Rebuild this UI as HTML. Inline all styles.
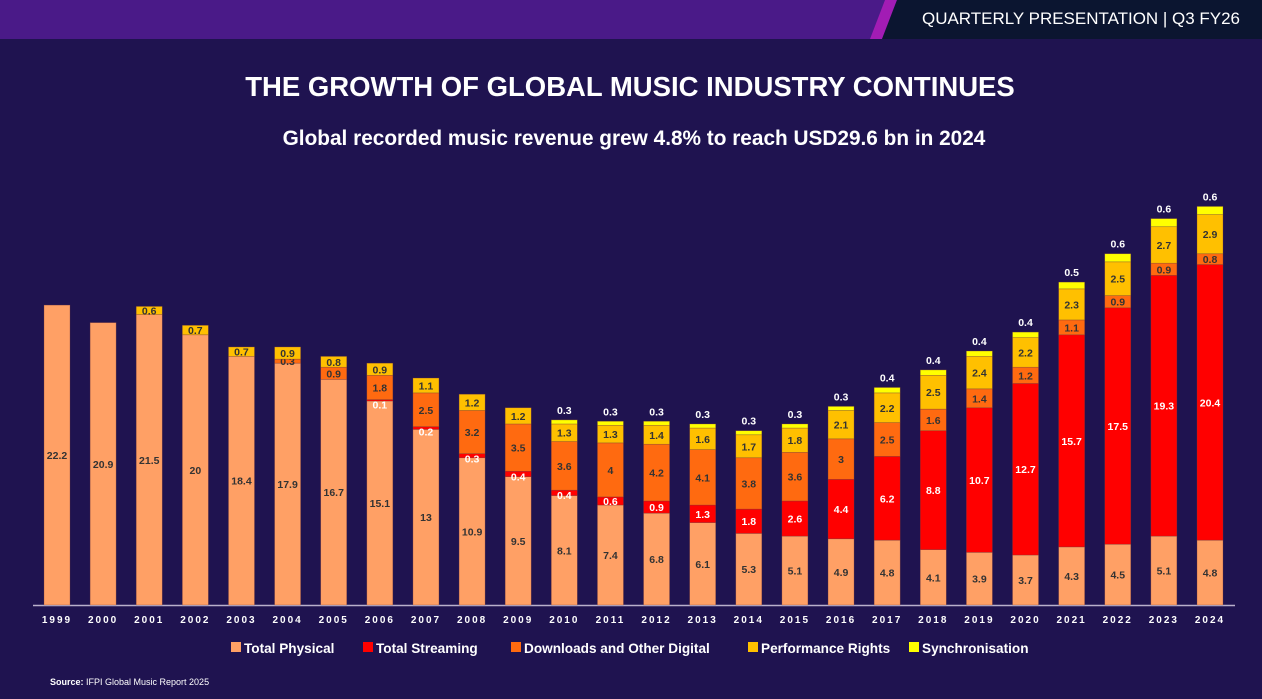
<!DOCTYPE html>
<html><head><meta charset="utf-8"><style>
body{margin:0;width:1262px;height:699px;overflow:hidden;background:#1f1350;font-family:"Liberation Sans",sans-serif}
#wrap{position:relative;width:1262px;height:699px}
.t{position:absolute;color:#fff;font-weight:bold;text-align:center;width:1262px;left:0}
</style></head><body><div id="wrap">
<svg width="1262" height="39" style="position:absolute;left:0;top:0">
<rect x="0" y="0" width="1262" height="39" fill="#4a1a88"/>
<polygon points="870,39 885,0 897,0 882,39" fill="#a21cb4"/>
<polygon points="882,39 897,0 1262,0 1262,39" fill="#0b1530"/>
<text x="1240" y="24" text-anchor="end" fill="#fff" font-size="17" textLength="318" lengthAdjust="spacingAndGlyphs" font-family="Liberation Sans,sans-serif">QUARTERLY PRESENTATION | Q3 FY26</text>
</svg>
<div class="t" style="top:71px;font-size:27.5px;left:-1px">THE GROWTH OF GLOBAL MUSIC INDUSTRY CONTINUES</div>
<div class="t" style="top:127px;font-size:20.8px;left:3px">Global recorded music revenue grew 4.8% to reach USD29.6 bn in 2024</div>
<svg id="chart" width="1262" height="699" style="position:absolute;left:0;top:0"></svg>
<div style="position:absolute;left:50px;top:677px;color:#fff;font-size:9px"><b>Source:</b> IFPI Global Music Report 2025</div>
</div>
<script>
const years=["1999","2000","2001","2002","2003","2004","2005","2006","2007","2008","2009","2010","2011","2012","2013","2014","2015","2016","2017","2018","2019","2020","2021","2022","2023","2024"];
const physical=[22.2,20.9,21.5,20,18.4,17.9,16.7,15.1,13,10.9,9.5,8.1,7.4,6.8,6.1,5.3,5.1,4.9,4.8,4.1,3.9,3.7,4.3,4.5,5.1,4.8];
const streaming=[0,0,0,0,0,0,0,0.1,0.2,0.3,0.4,0.4,0.6,0.9,1.3,1.8,2.6,4.4,6.2,8.8,10.7,12.7,15.7,17.5,19.3,20.4];
const downloads=[0,0,0,0,0,0.3,0.9,1.8,2.5,3.2,3.5,3.6,4,4.2,4.1,3.8,3.6,3,2.5,1.6,1.4,1.2,1.1,0.9,0.9,0.8];
const performance=[0,0,0.6,0.7,0.7,0.9,0.8,0.9,1.1,1.2,1.2,1.3,1.3,1.4,1.6,1.7,1.8,2.1,2.2,2.5,2.4,2.2,2.3,2.5,2.7,2.9];
const sync=[0,0,0,0,0,0,0,0,0,0,0,0.3,0.3,0.3,0.3,0.3,0.3,0.3,0.4,0.4,0.4,0.4,0.5,0.6,0.6,0.6];
const seriesNames=["Total Physical","Total Streaming","Downloads and Other Digital","Performance Rights","Synchronisation"];
const NS="http://www.w3.org/2000/svg",svg=document.getElementById('chart');
const base=605,k=13.51,x0=57,step=46.12,bw=26;
const y=v=>base-v*k, x=i=>x0+i*step;
const series=[physical,streaming,downloads,performance,sync];
const colors=["#ffa065","#ff0000","#ff6a10","#ffc000","#ffff00"];
const keys=["physical","streaming","downloads","performance","sync"];
function mk(t,a){const e=document.createElementNS(NS,t);for(const q in a)e.setAttribute(q,a[q]);svg.appendChild(e);return e;}
const ax=mk('line',{x1:33,x2:1235,y1:base+0.5,y2:base+0.5,stroke:'#b9b0cc','stroke-width':1.5});


years.forEach((yr,i)=>{
  let cum=0;
  series.forEach((s,j)=>{
    const v=s[i]; if(!v) return;
    const top=y(cum+v), bot=y(cum);
    const r=mk('rect',{x:x(i)-bw/2,y:top,width:bw,height:bot-top,fill:colors[j],stroke:'rgba(120,60,60,0.5)','stroke-width':0.6});
    
    
    let ly=(top+bot)/2+4, fill=j==1?'#fff':'#333';
    if(j==1&&v<0.5) ly=top+9;
    if(j==4){ly=top-6;fill='#fff';}
    const t=mk('text',{x:x(i),y:ly,'text-anchor':'middle','font-size':10.5,'font-weight':'bold',fill:fill,'font-family':'Liberation Sans,sans-serif'});
    t.textContent=String(v);
    
    
    cum+=v;
  });
  const yl=mk('text',{x:x(i),y:623,'text-anchor':'middle','font-size':10,'font-weight':'bold',fill:'#fff','letter-spacing':2,'font-family':'Liberation Sans,sans-serif'});
  yl.textContent=yr;
  
  
});
const lx=[231,363,511,748,909];
seriesNames.forEach((n,j)=>{
  const r=mk('rect',{x:lx[j],y:642,width:10,height:10,fill:colors[j]});
  
  
  const t=mk('text',{x:lx[j]+13,y:653,'font-size':13.6,'font-weight':'bold',fill:'#fff','font-family':'Liberation Sans,sans-serif'});
  t.textContent=n;
  
  
});
</script></body></html>
